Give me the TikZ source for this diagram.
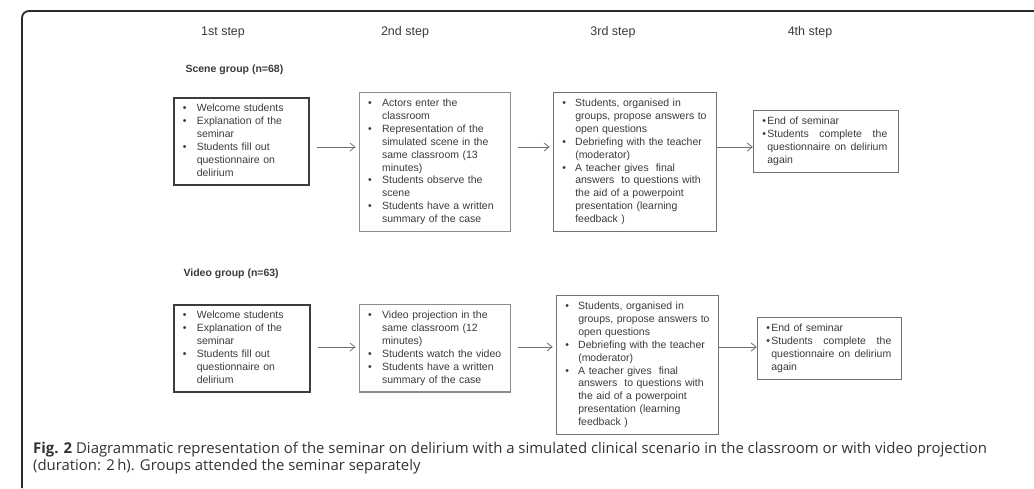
\documentclass[tikz,border=0pt]{standalone}
\usepackage{fontspec}
\setmainfont{Liberation Sans}
\newfontfamily\capfont{Open Sans}
\usetikzlibrary{positioning,arrows.meta,calc}

\definecolor{framegray}{HTML}{2A2A2A}
\definecolor{boxdark}{HTML}{3C3C3C}
\definecolor{boxgray}{HTML}{8C8C8C}
\definecolor{boxmid}{HTML}{727272}
\definecolor{arrgray}{HTML}{707070}
\definecolor{txtgray}{HTML}{3A3A3A}
\definecolor{captext}{HTML}{333333}

\begin{document}
\begin{tikzpicture}[
        x=1pt, y=-1pt,
        font=\fontsize{10.5}{12.9}\selectfont,
        box/.style={draw=boxgray, line width=1.1pt, inner xsep=9pt, inner ysep=5pt, anchor=north west, align=left, text=txtgray},
        firstbox/.style={box, draw=boxdark, line width=1.6pt},
        laterbox/.style={box, draw=boxmid},
        head/.style={font=\fontsize{12.5}{14}\selectfont, text=txtgray},
        group/.style={font=\bfseries\fontsize{10.5}{12}\selectfont, text=txtgray, anchor=west},
        line/.style={-{Straight Barb[length=5pt,width=8pt]}, draw=arrgray, line width=0.8pt}
    ]
        \useasboundingbox (0,0) rectangle (1034,488);
        \draw[framegray, line width=1.8pt, rounded corners=7pt] (1034,11) -- (22,11) -- (22,488);

        \foreach \x/\lab in {223/1st, 405/2nd, 613/3rd, 810/4th}
            \node[head] (h\lab) at (\x,32) {\lab\ step};

        % scene group
        \node[group] (scene) at (182,70) {Scene group (n=68)};
        \coordinate (srow) at (0,147);

        \node[firstbox, text width=117pt] (s1) at (173,97) {%
            \begin{tabular}{@{}p{14pt}@{}l@{}}
            \textbullet & Welcome students\\
            \textbullet & Explanation of the\\
             & seminar\\
            \textbullet & Students fill out\\
             & questionnaire on\\
             & delirium
            \end{tabular}};
        \node[box, text width=133pt, right=49pt of s1.north east, anchor=north west, yshift=5pt] (s2) {%
            \begin{tabular}{@{}p{14pt}@{}l@{}}
            \textbullet & Actors enter the\\
             & classroom\\
            \textbullet & Representation of the\\
             & simulated scene in the\\
             & same classroom (13\\
             & minutes)\\
            \textbullet & Students observe the\\
             & scene\\
            \textbullet & Students have a written\\
             & summary of the case
            \end{tabular}};
        \node[laterbox, text width=145pt, right=42pt of s2.north east, anchor=north west] (s3) {%
            \begin{tabular}{@{}p{13pt}@{}l@{}}
            \textbullet & Students, organised in\\
             & groups, propose answers to\\
             & open questions\\
            \textbullet & Debriefing with the teacher\\
             & (moderator)\\
            \textbullet & A teacher gives\ \ final\\
             & answers\ \ to questions with\\
             & the aid of a powerpoint\\
             & presentation (learning\\
             & feedback )
            \end{tabular}};
        \node[laterbox, text width=127pt, anchor=west] (s4) at ($(s3.east |- s1.east)+(36,0)$) {%
            \begin{tabular}{@{}p{5pt}@{}l@{}}
            \textbullet & End of seminar\\
            \textbullet & \hbox to 120pt{Students\hfill complete\hfill the}\\
             & \hbox to 120pt{questionnaire\hfill on\hfill delirium}\\
             & again
            \end{tabular}};

        \draw[line, shorten <=7pt, shorten >=3pt] (s1.east |- srow) -- (s2.west |- srow);
        \draw[line, shorten <=7pt, shorten >=3pt] (s2.east |- srow) -- (s3.west |- srow);
        \draw[line] (s3.east |- srow) -- (s4.west |- srow);

        % video group
        \node[group] (video) at (180,274) {Video group (n=63)};
        \coordinate (vrow) at (0,347);

        \node[firstbox, text width=118pt] (v1) at (173,304) {%
            \begin{tabular}{@{}p{14pt}@{}l@{}}
            \textbullet & Welcome students\\
            \textbullet & Explanation of the\\
             & seminar\\
            \textbullet & Students fill out\\
             & questionnaire on\\
             & delirium
            \end{tabular}};
        \node[box, text width=133pt, right=48pt of v1.north east, anchor=north west] (v2) {%
            \begin{tabular}{@{}p{14pt}@{}l@{}}
            \textbullet & Video projection in the\\
             & same classroom (12\\
             & minutes)\\
            \textbullet & Students watch the video\\
            \textbullet & Students have a written\\
             & summary of the case
            \end{tabular}};
        \node[laterbox, text width=144pt, right=45pt of v2.north east, anchor=north west, yshift=9pt] (v3) {%
            \begin{tabular}{@{}p{13pt}@{}l@{}}
            \textbullet & Students, organised in\\
             & groups, propose answers to\\
             & open questions\\
            \textbullet & Debriefing with the teacher\\
             & (moderator)\\
            \textbullet & A teacher gives\ \ final\\
             & answers\ \ to questions with\\
             & the aid of a powerpoint\\
             & presentation (learning\\
             & feedback )
            \end{tabular}};
        \node[laterbox, text width=126pt, anchor=west] (v4) at ($(v3.east |- v2.east)+(38,0)$) {%
            \begin{tabular}{@{}p{5pt}@{}l@{}}
            \textbullet & End of seminar\\
            \textbullet & \hbox to 120pt{Students\hfill complete\hfill the}\\
             & \hbox to 120pt{questionnaire\hfill on\hfill delirium}\\
             & again
            \end{tabular}};

        \draw[line, shorten <=7pt, shorten >=3pt] (v1.east |- vrow) -- (v2.west |- vrow);
        \draw[line, shorten <=7pt, shorten >=3pt] (v2.east |- vrow) -- (v3.west |- vrow);
        \draw[line] (v3.east |- vrow) -- (v4.west |- vrow);

        \node[anchor=north west, inner sep=0pt, align=left, text=captext,
              font=\capfont\fontsize{14.9}{17}\selectfont] (cap) at (33,442)
            {\textbf{Fig. 2} Diagrammatic representation of the seminar on delirium with a simulated clinical scenario in the classroom or with video projection\\
             (duration: 2\,h). Groups attended the seminar separately};
    \end{tikzpicture}
\end{document}
